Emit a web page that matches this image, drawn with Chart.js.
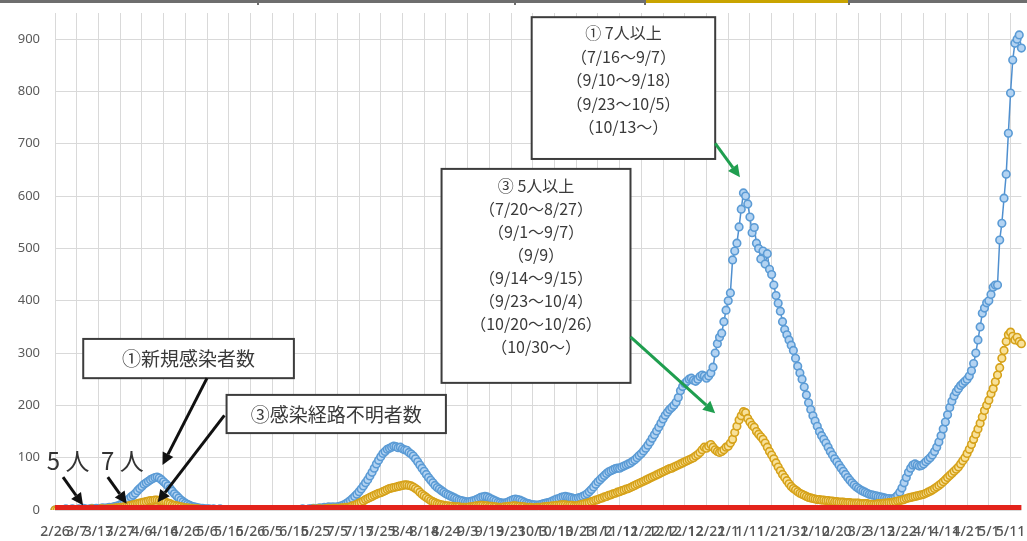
<!DOCTYPE html>
<html lang="ja">
<head>
<meta charset="utf-8">
<script src="https://cdn.jsdelivr.net/npm/chart.js@4.4.1/dist/chart.umd.min.js"></script>
<style>
  html, body { margin: 0; padding: 0; background: #fff; }
  #wrap { width: 1027px; height: 541px; }
</style>
</head>
<body>
<div id="wrap"><canvas id="chart" width="1027" height="541"></canvas></div>
<script>
// daily series, starting 2020/2/26
var firstDay = new Date(2020, 1, 26);

// ①新規感染者数
var newCases = [
  0,0,1,0,1,2,1,0,2,1,
  1,2,1,3,2,1,2,3,2,3,
  2,3,4,3,4,5,4,6,7,8,
  10,12,15,18,21,25,28,32,37,41,
  45,49,52,55,58,60,62,63,61,58,
  54,50,46,41,36,31,27,23,19,16,
  13,11,9,7,6,5,4,3,3,2,
  2,2,1,2,1,1,2,1,1,0,
  1,1,0,1,0,1,1,0,0,1,
  0,1,0,0,1,0,1,0,0,1,
  0,1,1,0,1,0,0,1,1,0,
  1,0,1,1,2,1,1,2,2,3,
  2,3,4,3,5,4,6,5,6,5,
  6,7,8,10,12,15,18,22,26,30,
  35,40,46,52,58,65,72,80,88,95,
  102,108,112,116,118,120,122,121,119,120,
  117,115,114,110,107,103,98,92,86,80,
  74,68,62,57,52,47,43,40,37,34,
  31,29,27,25,23,21,19,18,17,16,
  15,16,17,18,20,22,24,25,26,25,
  23,21,19,17,15,14,13,13,14,16,
  18,20,21,20,19,17,15,13,12,11,
  10,10,9,10,11,12,13,14,15,17,
  19,21,22,24,25,26,25,24,23,22,
  22,23,24,26,28,31,35,39,44,49,
  54,58,62,66,70,73,75,77,79,80,
  80,82,84,86,88,90,93,96,100,104,
  108,113,118,124,130,137,144,151,158,166,
  174,181,187,192,196,200,206,215,228,236,
  242,246,250,252,248,246,250,255,258,256,
  252,256,262,273,300,318,330,338,360,382,
  400,415,478,495,510,541,575,606,600,585,
  560,530,540,510,500,480,495,470,490,460,
  450,430,410,395,380,360,345,335,325,315,
  305,290,275,262,250,235,220,205,192,180,
  170,160,150,142,135,128,120,112,105,98,
  92,86,80,74,68,62,57,52,48,44,
  41,38,36,34,32,30,29,28,27,26,
  25,24,23,22,22,21,22,24,28,34,
  42,52,62,72,80,86,88,86,84,85,
  88,92,96,100,105,112,120,130,142,155,
  168,182,196,208,218,226,232,238,242,246,
  250,256,266,280,300,325,350,376,386,396,
  400,412,426,430,430,516,548,596,642,720,
  797,860,892,900,908,883
];

// ③感染経路不明者数
var unknownRoute = [
  0,0,0,1,0,0,1,0,1,0,
  1,0,1,1,0,1,1,2,1,1,
  1,2,2,1,2,2,3,3,4,4,
  5,5,6,7,8,9,10,11,12,13,
  14,15,16,17,18,18,19,19,18,17,
  16,15,13,12,10,9,8,7,6,5,
  4,4,3,3,2,2,2,1,1,1,
  1,1,0,1,0,1,0,0,1,0,
  0,1,0,0,1,0,0,0,1,0,
  0,0,1,0,0,1,0,0,0,1,
  0,0,1,0,0,0,1,0,0,1,
  0,1,0,1,1,0,1,1,1,2,
  1,2,2,1,2,2,3,2,3,3,
  3,3,4,4,5,5,6,8,9,11,
  13,15,17,20,22,24,26,28,30,32,
  33,35,37,39,41,42,43,44,45,46,
  47,48,48,47,46,44,41,38,34,30,
  27,24,21,18,16,14,12,11,10,9,
  8,8,7,7,6,6,6,5,5,5,
  5,6,6,7,8,8,9,9,8,8,
  7,7,6,6,5,5,5,6,6,7,
  7,8,8,7,7,6,6,5,5,5,
  4,4,5,5,5,6,6,7,7,8,
  8,9,9,10,10,10,9,9,9,8,
  8,9,10,11,12,13,14,16,17,19,
  20,22,23,25,26,28,29,31,32,34,
  35,37,38,40,41,43,45,47,49,51,
  53,55,57,59,61,63,65,67,69,71,
  73,75,77,79,80,82,84,86,88,90,
  92,94,96,98,100,103,106,110,115,120,
  118,122,125,120,115,112,110,112,115,120,
  122,128,135,148,160,172,180,188,186,175,
  168,162,158,150,145,140,135,128,120,112,
  105,98,90,82,75,68,62,56,50,45,
  41,38,35,32,30,28,26,24,23,22,
  21,20,20,19,19,18,18,17,17,16,
  16,15,15,15,14,14,14,13,13,13,
  13,12,12,12,12,11,11,11,11,12,
  12,12,13,13,14,14,15,16,17,18,
  19,20,22,23,24,25,26,27,28,29,
  30,32,34,36,38,41,44,47,50,54,
  58,62,66,70,74,78,82,88,94,100,
  108,116,125,135,145,155,166,178,190,200,
  210,222,232,245,258,272,290,305,322,335,
  340,332,325,330,322,318
];

// 基準線（人）
var thresholdLevel = 5;

// y axis ticks
var yTicks = [0, 100, 200, 300, 400, 500, 600, 700, 800, 900];
var yMax = 950;
var labelEvery = 10;

var dayLabels = newCases.map(function (v, i) {
  var d = new Date(firstDay.getFullYear(), firstDay.getMonth(), firstDay.getDate() + i);
  return (d.getMonth() + 1) + '/' + d.getDate();
});

// callout boxes, placed in (day index, value) units
var notes = [
  { lines: ['①新規感染者数'], x0: 13, x1: 110, y0: 327, y1: 252, size: 19, pad: 2, lh: 36 },
  { lines: ['③感染経路不明者数'], x0: 79, x1: 180, y0: 220, y1: 147, size: 19, pad: 2, lh: 36 },
  { lines: ['① 7人以上', '（7/16～9/7）', '（9/10～9/18）', '（9/23～10/5）', '（10/13～）'],
    x0: 219.5, x1: 304, y0: 942, y1: 671, size: 16, pad: 4, lh: 23.5 },
  { lines: ['③ 5人以上', '（7/20～8/27）', '（9/1～9/7）', '（9/9）', '（9/14～9/15）', '（9/23～10/4）', '（10/20～10/26）', '（10/30～）'],
    x0: 178, x1: 265, y0: 652, y1: 243, size: 16, pad: 6, lh: 23 }
];

var arrows = [
  { from: [70, 252], to: [49.5, 86], color: '#111' },
  { from: [78, 181], to: [47.3, 15], color: '#111' },
  { from: [3.7, 63], to: [12.9, 9], color: '#111' },
  { from: [24.3, 63], to: [33, 12], color: '#111' },
  { from: [304, 701], to: [315.4, 636], color: '#1f9e4f' },
  { from: [265, 331], to: [304, 185], color: '#1f9e4f' }
];

var bigLabels = [
  { text: '5 人', x: 6, y: 94 },
  { text: '7 人', x: 31, y: 94 }
];

function drawArrow(ctx, x0, y0, x1, y1, color) {
  var a = Math.atan2(y1 - y0, x1 - x0);
  var head = 12, half = 6;
  var bx = x1 - head * Math.cos(a), by = y1 - head * Math.sin(a);
  ctx.strokeStyle = color;
  ctx.fillStyle = color;
  ctx.lineWidth = 3;
  ctx.beginPath();
  ctx.moveTo(x0, y0);
  ctx.lineTo(bx, by);
  ctx.stroke();
  ctx.beginPath();
  ctx.moveTo(x1, y1);
  ctx.lineTo(bx + half * Math.sin(a), by - half * Math.cos(a));
  ctx.lineTo(bx - half * Math.sin(a), by + half * Math.cos(a));
  ctx.closePath();
  ctx.fill();
}

var calloutPlugin = {
  id: 'callouts',
  afterDatasetsDraw: function (chart) {
    var ctx = chart.ctx, xs = chart.scales.x, ys = chart.scales.y;
    ctx.save();
    notes.forEach(function (n) {
      var l = xs.getPixelForValue(n.x0), r = xs.getPixelForValue(n.x1);
      var t = ys.getPixelForValue(n.y0), b = ys.getPixelForValue(n.y1);
      ctx.fillStyle = '#fff';
      ctx.fillRect(l, t, r - l, b - t);
      ctx.strokeStyle = '#3c3c3c';
      ctx.lineWidth = 2;
      ctx.strokeRect(l, t, r - l, b - t);
      ctx.fillStyle = '#3a3a3a';
      ctx.font = n.size + 'px "Noto Sans CJK JP"';
      ctx.textAlign = 'center';
      ctx.textBaseline = 'middle';
      n.lines.forEach(function (s, i) {
        ctx.fillText(s, (l + r) / 2, t + n.pad + n.lh * (i + 0.5));
      });
    });
    arrows.forEach(function (a) {
      drawArrow(ctx,
        xs.getPixelForValue(a.from[0]), ys.getPixelForValue(a.from[1]),
        xs.getPixelForValue(a.to[0]), ys.getPixelForValue(a.to[1]), a.color);
    });
    ctx.fillStyle = '#333';
    ctx.font = '24px "Noto Sans CJK JP"';
    ctx.textAlign = 'center';
    ctx.textBaseline = 'middle';
    bigLabels.forEach(function (m) {
      ctx.fillText(m.text, xs.getPixelForValue(m.x), ys.getPixelForValue(m.y));
    });
    ctx.restore();
  }
};

// bottom edge of the table that sits above the chart
var tableEdgePlugin = {
  id: 'tableEdge',
  afterDraw: function (chart) {
    var ctx = chart.ctx;
    ctx.save();
    ctx.fillStyle = '#6e6e6e';
    ctx.fillRect(0, 0, chart.width, 3);
    ctx.fillStyle = '#c9a400';
    ctx.fillRect(645, 0, 204, 3);
    ctx.fillStyle = '#6e6e6e';
    [258, 515, 645, 849].forEach(function (x) { ctx.fillRect(x - 1, 0, 2, 5); });
    ctx.restore();
  }
};

var ctx = document.getElementById('chart').getContext('2d');

var chart = new Chart(ctx, {
  type: 'line',
  data: {
    labels: dayLabels,
    datasets: [
      {
        label: '基準',
        data: dayLabels.map(function () { return thresholdLevel; }),
        borderColor: '#e3231b',
        borderWidth: 5,
        pointRadius: 0,
        order: 0
      },
      {
        label: '③感染経路不明者数',
        data: unknownRoute,
        borderColor: '#dba720',
        backgroundColor: '#f6dc86',
        borderWidth: 1.5,
        pointRadius: 3.8,
        pointBorderWidth: 1.6,
        pointBorderColor: '#d6a21a',
        pointBackgroundColor: '#f8e19a',
        order: 1
      },
      {
        label: '①新規感染者数',
        data: newCases,
        borderColor: '#4f8fcf',
        backgroundColor: '#a9cbef',
        borderWidth: 1.5,
        pointRadius: 3.8,
        pointBorderWidth: 1.6,
        pointBorderColor: '#5b9bd5',
        pointBackgroundColor: '#b3d3f2',
        order: 2
      }
    ]
  },
  options: {
    responsive: false,
    animation: false,
    layout: { padding: { top: 13, right: 3, left: 0, bottom: 0 } },
    plugins: { legend: { display: false }, tooltip: { enabled: false } },
    scales: {
      x: {
        type: 'category',
        grid: { color: '#d9d9d9', lineWidth: 1, drawTicks: false },
        border: { display: false },
        afterFit: function (s) { s.height = 31; s.paddingLeft = 0; s.paddingRight = 0; },
        ticks: {
          autoSkip: false,
          maxRotation: 0,
          minRotation: 0,
          padding: 14,
          color: '#555',
          font: { family: 'Noto Sans', size: 14, weight: '500' },
          callback: function (v, i) { return i % labelEvery === 0 ? dayLabels[i] : null; }
        }
      },
      y: {
        min: 0,
        max: yMax,
        grid: { color: '#d9d9d9', lineWidth: 1, drawTicks: false },
        border: { display: false },
        afterFit: function (s) { s.width = 55; s.paddingTop = 0; s.paddingBottom = 0; },
        ticks: {
          stepSize: 100,
          padding: 15,
          color: '#5a5a5a',
          font: { family: 'Noto Sans', size: 13 },
          callback: function (v) { return yTicks.indexOf(v) >= 0 ? v : null; }
        }
      }
    }
  },
  plugins: [calloutPlugin, tableEdgePlugin]
});
</script>
</body>
</html>
